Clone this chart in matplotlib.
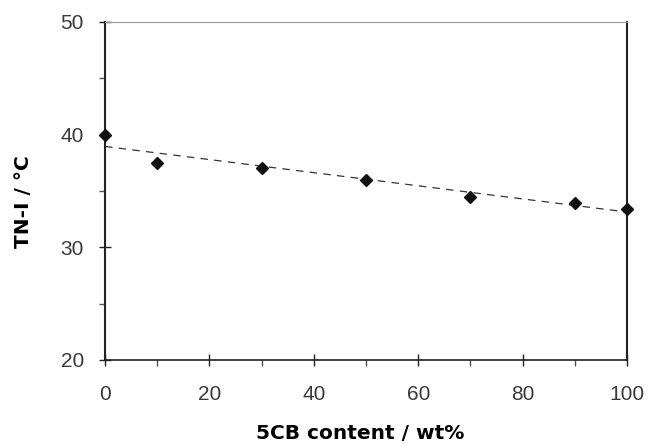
import numpy as np
import matplotlib
matplotlib.use('Agg')
import matplotlib.pyplot as plt
from matplotlib.ticker import MultipleLocator

# 5CB content (wt%) vs nematic-isotropic transition temperature
content = [0, 10, 30, 50, 70, 90, 100]
t_ni = [40.0, 37.5, 37.0, 36.0, 34.5, 33.9, 33.4]

plt.rcParams['font.family'] = ['Liberation Sans', 'DejaVu Sans']

fig = plt.figure(figsize=(6.51, 4.44), dpi=100)
ax = fig.add_axes([0.1613, 0.1892, 0.8018, 0.7613])

# linear trend line through the points
k, b = np.polyfit(content, t_ni, 1)
xs = np.array([0, 100])
ax.plot(xs, k * xs + b, color='#333333', linewidth=0.9, dashes=(6, 5))
ax.plot(content, t_ni, linestyle='none', marker='D', markersize=6.5,
        color='#111111', clip_on=False, zorder=5)

ax.set_xlim(0, 100)
ax.set_ylim(20, 50)
ax.xaxis.set_major_locator(MultipleLocator(20))
ax.xaxis.set_minor_locator(MultipleLocator(10))
ax.yaxis.set_major_locator(MultipleLocator(10))
ax.yaxis.set_minor_locator(MultipleLocator(5))

ax.tick_params(which='major', direction='inout', length=8.6, width=1.0,
               color='#222222', labelsize=15, labelcolor='#3a3a3a')
ax.tick_params(which='minor', direction='out', length=4, width=1.0,
               color='#555555')
ax.tick_params(axis='y', which='major', pad=11)
ax.tick_params(axis='x', which='major', pad=14)

for side in ['left', 'right']:
    ax.spines[side].set_linewidth(1.5)
    ax.spines[side].set_color('#222222')
ax.spines['bottom'].set_linewidth(1.2)
ax.spines['bottom'].set_color('#222222')
ax.spines['top'].set_linewidth(0.8)
ax.spines['top'].set_color('#999999')

label_font = dict(fontsize=14.5, fontweight='bold', family='DejaVu Sans')
ax.set_xlabel('5CB content / wt%', **label_font)
ax.set_ylabel('TN-I / \u00b0C', **label_font)
ax.xaxis.set_label_coords(0.488, -0.19)
ax.yaxis.set_label_coords(-0.138, 0.47)

fig.savefig('out.png', dpi=100, facecolor='white')
